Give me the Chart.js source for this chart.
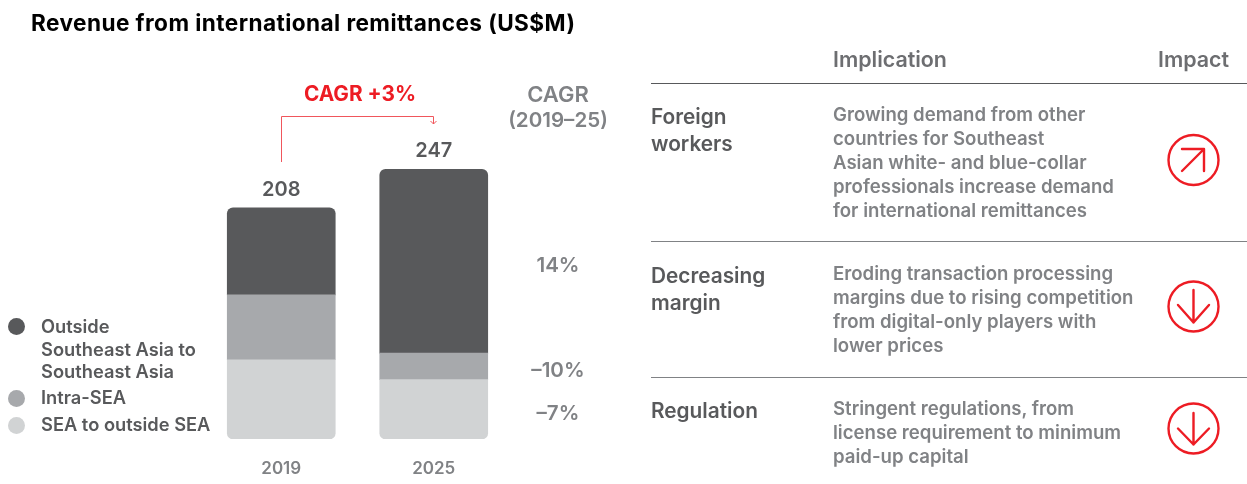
<!DOCTYPE html>
<html>
<head>
<meta charset="utf-8">
<title>Revenue from international remittances</title>
<script src="https://cdn.jsdelivr.net/npm/chart.js@4/dist/chart.umd.min.js"></script>
<style>
    html, body { margin: 0; padding: 0; background: #fff; }
    #page { position: relative; width: 1247px; height: 484px; overflow: hidden; font-family: Inter, sans-serif; }
    canvas { position: absolute; left: 0; top: 0; }
    svg { position: absolute; left: 0; top: 0; }
    .t { position: absolute; white-space: nowrap; line-height: 1; transform: translateY(-50%); }
    .c { transform: translate(-50%, -50%); }
    .titulo { font-size: 22.6px; font-weight: 700; color: #000; letter-spacing: 0.43px; }
    .head { font-size: 21.4px; font-weight: 600; color: #6d6e71; margin-top: 1px; }
    .tema { font-size: 20.8px; font-weight: 600; color: #58595b; margin-top: 0.6px; }
    .desc { font-size: 18.6px; font-weight: 600; color: #808285; margin-top: -0.6px; }
    .cagr { font-size: 20.6px; font-weight: 600; color: #808285; }
    .leg { font-size: 18.3px; font-weight: 600; color: #58595b; margin-top: -1px; }
    .rule { position: absolute; left: 651px; width: 596px; height: 1px; }
    .dot { position: absolute; left: 8px; width: 17px; height: 17px; border-radius: 50%; }
</style>
</head>
<body>
<div id="page">
    <canvas id="grafico" width="1247" height="484"></canvas>

    <div class="t titulo" style="left:31px;top:23px">Revenue from international remittances (US$M)</div>

    <div class="t c tema" style="left:360px;top:93.4px;color:#ed1c24;font-weight:700">CAGR +3%</div>
    <div class="t c cagr" style="left:558px;top:94px;font-size:22px">CAGR</div>
    <div class="t c cagr" style="left:558px;top:120px">(2019–25)</div>
    <div id="cagrs"></div>

    <div class="dot" style="top:318px;background:#58595b"></div>
    <div class="dot" style="top:390px;background:#a7a9ac"></div>
    <div class="dot" style="top:417px;background:#d1d3d4"></div>
    <div class="t leg" style="left:41px;top:327px">Outside</div>
    <div class="t leg" style="left:41px;top:350px">Southeast Asia to</div>
    <div class="t leg" style="left:41px;top:372px">Southeast Asia</div>
    <div class="t leg" style="left:41px;top:398px">Intra-SEA</div>
    <div class="t leg" style="left:41px;top:425px">SEA to outside SEA</div>

    <div class="t head" style="left:833px;top:59px">Implication</div>
    <div class="t head" style="left:1158px;top:59px">Impact</div>
    <div class="rule" style="top:83px;background:#58595b"></div>
    <div class="rule" style="top:241px;background:#808285"></div>
    <div class="rule" style="top:377px;background:#808285"></div>

    <div class="t tema" style="left:651px;top:116px">Foreign</div>
    <div class="t tema" style="left:651px;top:143px">workers</div>
    <div class="t desc" style="left:833px;top:115px">Growing demand from other</div>
    <div class="t desc" style="left:833px;top:139px">countries for Southeast</div>
    <div class="t desc" style="left:833px;top:163px">Asian white- and blue-collar</div>
    <div class="t desc" style="left:833px;top:187px">professionals increase demand</div>
    <div class="t desc" style="left:833px;top:211px">for international remittances</div>

    <div class="t tema" style="left:651px;top:275px">Decreasing</div>
    <div class="t tema" style="left:651px;top:302px">margin</div>
    <div class="t desc" style="left:833px;top:274px">Eroding transaction processing</div>
    <div class="t desc" style="left:833px;top:298px">margins due to rising competition</div>
    <div class="t desc" style="left:833px;top:322px">from digital-only players with</div>
    <div class="t desc" style="left:833px;top:346px">lower prices</div>

    <div class="t tema" style="left:651px;top:410px">Regulation</div>
    <div class="t desc" style="left:833px;top:409px">Stringent regulations, from</div>
    <div class="t desc" style="left:833px;top:433px">license requirement to minimum</div>
    <div class="t desc" style="left:833px;top:457px">paid-up capital</div>

    <!-- icones de impacto -->
    <svg width="1247" height="484" fill="none" stroke="#ed1c24" stroke-width="2.4" stroke-linecap="round" stroke-linejoin="round">
        <circle cx="1193.5" cy="160" r="25"/>
        <path d="M1182 171 L1204 149 M1182 149 H1204 V171"/>
        <circle cx="1193.5" cy="306.5" r="25"/>
        <path d="M1193.5 290 V322.5 M1178 305 L1193.5 322.5 L1209 305"/>
        <circle cx="1193.5" cy="428.5" r="25"/>
        <path d="M1193.5 413 V444.5 M1178 428.5 L1193.5 444.5 L1209 428.5"/>
    </svg>
</div>

<script>
const anos = ['2019', '2025'];
// alturas (o original nao fecha exatamente com os totais)
const outsideToSea = [79, 167];
const intraSea = [59, 24];
const seaToOutside = [72, 54];
const totais = ['208', '247'];
const cagrLabels = ['14%', '–10%', '–7%'];
const cagrTops = [265, 370, 413];

const cores = { outside: '#58595b', intra: '#a7a9ac', sea: '#d1d3d4', vermelho: '#ed1c24' };
const fonte = 'Inter, sans-serif';

cagrLabels.forEach((txt, i) => {
    const d = document.createElement('div');
    d.className = 't c cagr';
    d.style.left = '558px';
    d.style.top = cagrTops[i] + 'px';
    d.textContent = txt;
    document.getElementById('cagrs').appendChild(d);
});

// totais em cima das barras e a seta do CAGR
const extras = {
    id: 'extras',
    afterDatasetsDraw(chart) {
        const ctx = chart.ctx;
        const topo = chart.getDatasetMeta(2).data;
        ctx.save();
        ctx.font = '600 20px ' + fonte;
        ctx.fillStyle = '#58595b';
        ctx.textAlign = 'center';
        ctx.textBaseline = 'middle';
        topo.forEach((bar, i) => ctx.fillText(totais[i], bar.x, bar.y - 18));

        const x1 = Math.round(topo[0].x), x2 = Math.round(topo[1].x);
        ctx.strokeStyle = '#f0565c';
        ctx.lineWidth = 1;
        ctx.beginPath();
        ctx.moveTo(x1 + 0.5, 162);
        ctx.lineTo(x1 + 0.5, 116.5);
        ctx.lineTo(x2 - 0.5, 116.5);
        ctx.lineTo(x2 - 0.5, 124);
        ctx.moveTo(x2 - 3.5, 121);
        ctx.lineTo(x2 - 0.5, 124);
        ctx.lineTo(x2 + 2.5, 121);
        ctx.stroke();
        ctx.restore();
    }
};

new Chart(document.getElementById('grafico'), {
    type: 'bar',
    data: {
        labels: anos,
        datasets: [
            {
                label: 'SEA to outside SEA',
                data: seaToOutside,
                backgroundColor: cores.sea,
                borderSkipped: false,
                borderRadius: { bottomLeft: 6, bottomRight: 6, topLeft: 0, topRight: 0 }
            },
            {
                label: 'Intra-SEA',
                data: intraSea,
                backgroundColor: cores.intra,
                borderSkipped: false,
                borderRadius: 0
            },
            {
                label: 'Outside Southeast Asia to Southeast Asia',
                data: outsideToSea,
                backgroundColor: cores.outside,
                borderSkipped: false,
                borderRadius: { topLeft: 6, topRight: 6, bottomLeft: 0, bottomRight: 0 }
            }
        ]
    },
    options: {
        responsive: false,
        animation: false,
        barThickness: 108,
        layout: { padding: { left: 205, right: 737, top: 0, bottom: 0 } },
        plugins: { legend: { display: false }, tooltip: { enabled: false } },
        scales: {
            x: {
                stacked: true,
                grid: { display: false, drawTicks: false },
                border: { display: false },
                afterFit: (escala) => { escala.height = 45; },
                ticks: {
                    padding: 20,
                    color: '#808285',
                    font: { family: fonte, size: 17, weight: '600' }
                }
            },
            y: {
                stacked: true,
                display: false,
                min: 0,
                max: 399
            }
        }
    },
    plugins: [extras]
});
</script>
</body>
</html>
